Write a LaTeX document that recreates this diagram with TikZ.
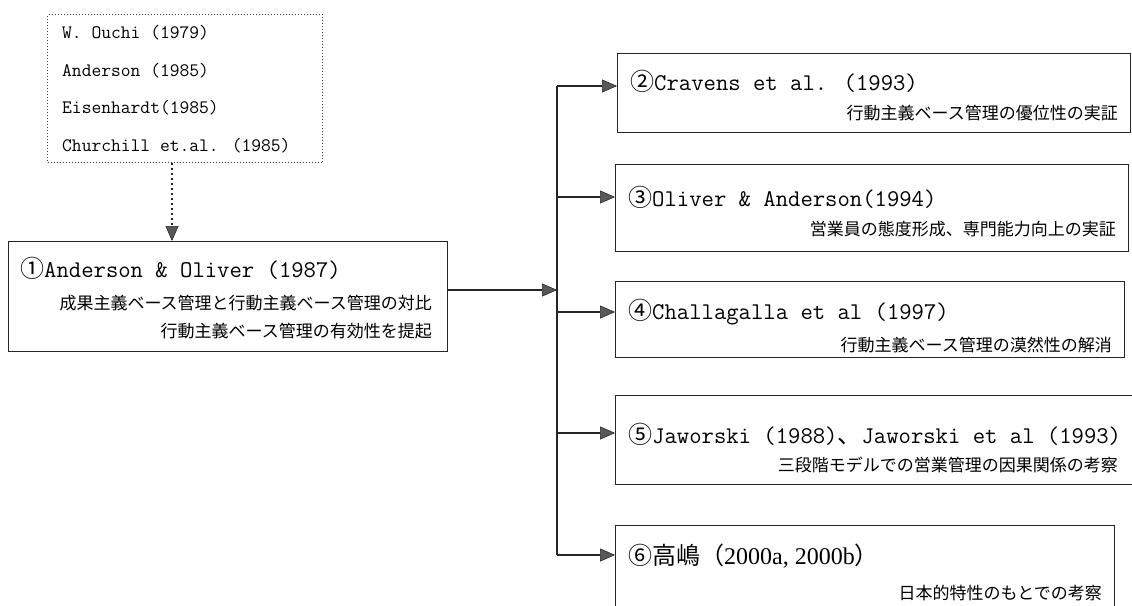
\documentclass[tikz,border=0pt]{standalone}
\usepackage{fontspec}
\newfontfamily\jp{Noto Sans CJK JP}
\newfontfamily\serifdigits{Liberation Serif}
\usetikzlibrary{arrows.meta}

\begin{document}
\begin{tikzpicture}[x=1pt,y=-1pt,
  box/.style={draw=black!85, line width=1.3pt, anchor=north west, inner sep=0pt},
  refbox/.style={draw=black!75, line width=1pt, dotted, anchor=north west, inner sep=0pt},
  ttl/.style={anchor=west, inner sep=0pt, font=\fontsize{24}{28}\selectfont\ttfamily},
  sub/.style={anchor=east, inner sep=0pt, font=\fontsize{17}{20}\selectfont\jp},
  lst/.style={anchor=west, inner sep=0pt, font=\fontsize{19}{22}\selectfont\ttfamily},
  tip/.style={-{Triangle[length=15pt,width=13pt,fill=black!65,line width=0.6pt]}},
  link/.style={line width=1.3pt, draw=black!85, tip},
  trunkline/.style={line width=1.3pt, draw=black!85}
]
\useasboundingbox (0,0) rectangle (1132,605);
\clip (0,0) rectangle (1132,605);

% prior studies
\node[refbox, minimum width=275pt, minimum height=148pt] (src) at (47,14) {};
\node[lst] (s1) at (62,33)  {W. Ouchi (1979)};
\node[lst] (s2) at (62,71)  {Anderson (1985)};
\node[lst] (s3) at (62,108) {Eisenhardt(1985)};
\node[lst] (s4) at (62,146) {Churchill et.al. (1985)};

% central study
\node[box, minimum width=439pt, minimum height=110pt] (b1) at (8,241) {};
\node[ttl] (t1) at (20,268) {{\jp ①}Anderson \& Oliver (1987)};
\node[sub] (u1a) at (432,303) {成果主義ベース管理と行動主義ベース管理の対比};
\node[sub] (u1b) at (432,331) {行動主義ベース管理の有効性を提起};

% follow-up studies
\node[box, minimum width=513pt, minimum height=79pt] (b2) at (617,53) {};
\node[ttl] (t2) at (630,81) {{\jp ②}Cravens et al. (1993)};
\node[sub] (u2) at (1118,113) {行動主義ベース管理の優位性の実証};

\node[box, minimum width=513pt, minimum height=87pt] (b3) at (615,164) {};
\node[ttl] (t3) at (628,197) {{\jp ③}Oliver \& Anderson(1994)};
\node[sub] (u3) at (1116,229) {営業員の態度形成、専門能力向上の実証};

\node[box, minimum width=509pt, minimum height=76pt] (b4) at (615,281) {};
\node[ttl] (t4) at (628,312) {{\jp ④}Challagalla et al (1997)};
\node[sub] (u4) at (1112,345) {行動主義ベース管理の漠然性の解消};

\node[box, minimum width=517pt, minimum height=89pt] (b5) at (615,395) {};
\node[ttl] (t5) at (628,434) {{\jp ⑤}Jaworski (1988){\jp 、}Jaworski et al (1993)};
\node[sub] (u5) at (1118,465) {三段階モデルでの営業管理の因果関係の考察};

\node[box, minimum width=499pt, minimum height=95pt] (b6) at (615,525) {};
\node[ttl] (t6) at (628,556) {{\jp ⑥高嶋（}{\serifdigits 2000a, 2000b}{\jp ）}};
\node[sub] (u6) at (1102,593) {日本的特性のもとでの考察};

% connectors
\draw[draw=black!85, line width=2.6pt, dash pattern=on 2.4pt off 2.6pt, tip]
  (src.south -| 172,0) -- (b1.north -| 172,0);

\coordinate (j)  at (557,290);
\coordinate (j2) at (557,86);
\coordinate (j3) at (557,197);
\coordinate (j4) at (557,312);
\coordinate (j5) at (557,433);
\coordinate (j6) at (557,555);

\draw[link] (b1.east |- j) -- (j);
\draw[trunkline] (j2) -- (j6);
\draw[link] (j2) -- (b2.west |- j2);
\draw[link] (j3) -- (b3.west |- j3);
\draw[link] (j4) -- (b4.west |- j4);
\draw[link] (j5) -- (b5.west |- j5);
\draw[link] (j6) -- (b6.west |- j6);
\end{tikzpicture}
\end{document}
